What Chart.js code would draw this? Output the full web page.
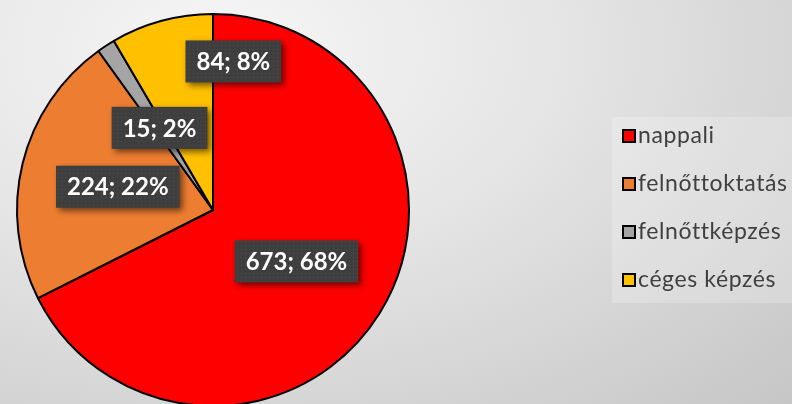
<!DOCTYPE html>
<html>
<head>
<meta charset="utf-8">
<script src="https://cdn.jsdelivr.net/npm/chart.js@4.4.0/dist/chart.umd.min.js"></script>
<style>
  html, body { margin: 0; padding: 0; overflow: hidden; }
  body {
    width: 792px; height: 404px;
    background: radial-gradient(ellipse farthest-corner at 28% 12%, #f6f6f6 0%, #e6e6e6 40%, #c6c6c6 100%);
  }
  #pie { display: block; }
</style>
</head>
<body>
<canvas id="pie" width="792" height="420"></canvas>
<script>
var labels = ["nappali", "felnőttoktatás", "felnőttképzés", "céges képzés"];
var values = [673, 224, 15, 84];
var colors = ["#ff0000", "#ed7d31", "#a5a5a5", "#ffc000"];

var total = values.reduce(function (a, b) { return a + b; }, 0);

// dotted dark fill for the label boxes
function makePattern(ctx) {
    var c = document.createElement("canvas");
    c.width = 4; c.height = 4;
    var p = c.getContext("2d");
    p.fillStyle = "#3e3e3e";
    p.fillRect(0, 0, 4, 4);
    p.fillStyle = "#4d4d4d";
    p.fillRect(1, 1, 1, 1);
    return ctx.createPattern(c, "repeat");
}

var valueLabels = {
    id: "valueLabels",
    afterDatasetsDraw: function (chart, args, opts) {
        var ctx = chart.ctx;
        var meta = chart.getDatasetMeta(0);
        var pattern = makePattern(ctx);
        ctx.save();
        ctx.font = "bold 24px Lato";
        ctx.textAlign = "center";
        ctx.textBaseline = "middle";
        meta.data.forEach(function (arc, i) {
            var pos = arc.tooltipPosition();
            var shift = opts.shift[i] || [0, 0];
            var x = pos.x + shift[0], y = pos.y + shift[1];
            var v = values[i];
            var txt = v + "; " + Math.round(v / total * 100) + "%";
            var w = ctx.measureText(txt).width + 22;
            var h = 42;
            ctx.save();
            ctx.shadowColor = "rgba(0,0,0,0.55)";
            ctx.shadowBlur = 6;
            ctx.shadowOffsetX = 3;
            ctx.shadowOffsetY = 3;
            ctx.fillStyle = pattern;
            ctx.fillRect(x - w / 2, y - h / 2, w, h);
            ctx.restore();
            ctx.fillStyle = "#ffffff";
            ctx.fillText(txt, x, y + 1);
        });
        ctx.restore();
    }
};

var sideLegend = {
    id: "sideLegend",
    afterDraw: function (chart, args, opts) {
        var ctx = chart.ctx;
        ctx.save();
        ctx.fillStyle = "rgba(255,255,255,0.22)";
        ctx.fillRect(opts.x, opts.y, opts.w, opts.h);
        ctx.font = "23px Lato";
        ctx.letterSpacing = "0.6px";
        ctx.textBaseline = "middle";
        labels.forEach(function (lab, i) {
            var cy = opts.y + opts.first + i * opts.step;
            ctx.fillStyle = colors[i];
            ctx.fillRect(opts.x + 11, cy - 6, 12, 12);
            ctx.strokeStyle = "#000";
            ctx.lineWidth = 2;
            ctx.strokeRect(opts.x + 11, cy - 6, 12, 12);
            ctx.fillStyle = "#404040";
            ctx.fillText(lab, opts.x + 26, cy);
        });
        ctx.restore();
    }
};

var chart = new Chart(document.getElementById("pie"), {
    type: "pie",
    data: {
        labels: labels,
        datasets: [{
            data: values,
            backgroundColor: colors,
            borderColor: "#000000",
            borderWidth: 2
        }]
    },
    options: {
        responsive: false,
        animation: false,
        layout: { padding: { left: 16, right: 382, top: 13, bottom: 13 } },
        plugins: {
            legend: { display: false },
            tooltip: { enabled: false },
            valueLabels: { shift: [[0, 0], [0, 0], [0, 0], [46, -54]] },
            sideLegend: { x: 612, y: 117, w: 180, h: 186, first: 19, step: 48 }
        }
    },
    plugins: [valueLabels, sideLegend]
});
</script>
</body>
</html>
